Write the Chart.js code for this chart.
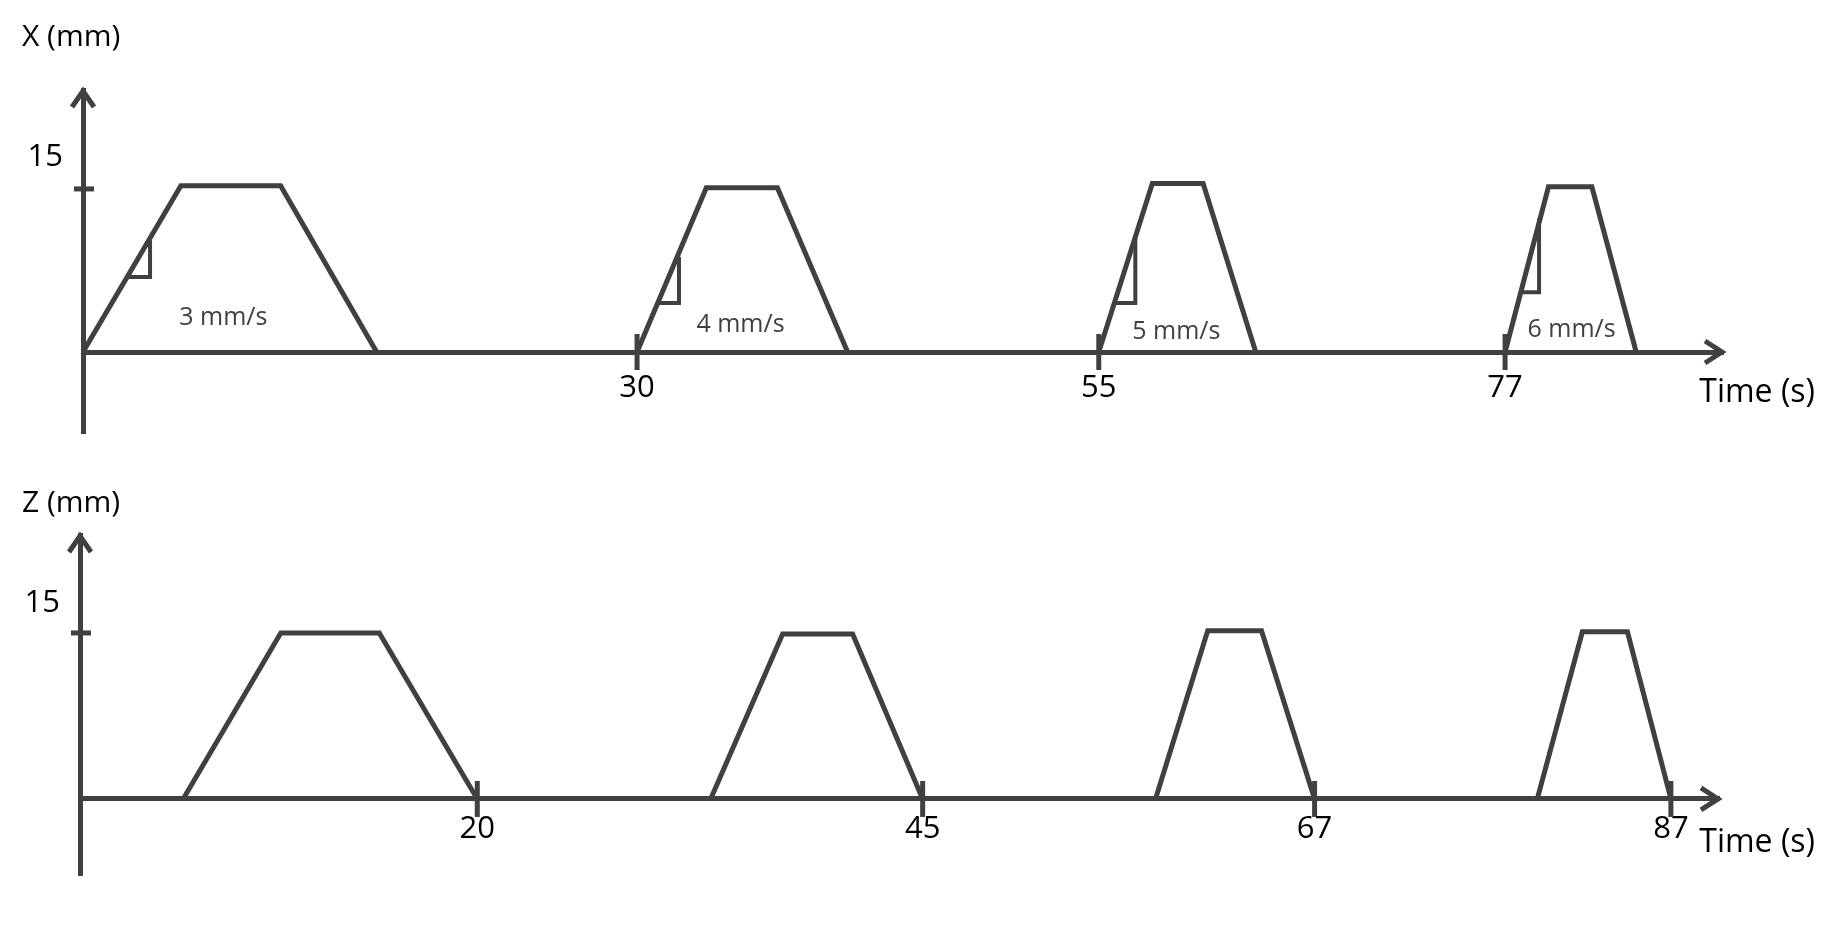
<!DOCTYPE html>
<html><head><meta charset="utf-8">
<script src="https://cdn.jsdelivr.net/npm/chart.js@4"></script>
<style>
html,body{margin:0;padding:0;background:#fff;}
#wrap{position:relative;width:1841px;height:927px;overflow:hidden;}
canvas{position:absolute;left:0;}
#cx{top:0;} #cz{top:463px;}
</style></head><body>
<div id="wrap"><canvas id="cx" width="1841" height="463"></canvas><canvas id="cz" width="1841" height="464"></canvas></div>
<script>
// ---- data (time in s, position in mm) ----
const xTimeTicks = [30, 55, 77];
const zTimeTicks = [20, 45, 67, 87];
const heightTick = [15];

const xRiseStart = [0, 30, 55, 77];
const xRiseEnd   = [5.3, 33.75, 57.9, 79.35];
const xFallStart = [10.7, 37.6, 60.65, 81.7];
const xFallEnd   = [15.9, 41.4, 63.5, 84.1];
const xPlateau   = [15.3, 15.1, 15.5, 15.2];

const slopeLegStart = [2.49, 31.14, 55.85, 77.92];
const slopeLegEnd   = [3.63, 32.27, 56.98, 78.84];
const slopeLow      = [6.9, 4.5, 4.5, 5.5];
const slopeHigh     = [10.3, 8.74, 10.5, 12.3];

const speedLabels    = ['3 mm/s', '4 mm/s', '5 mm/s', '6 mm/s'];
const speedLabelTime = [7.6, 35.6, 59.2, 80.6];
const speedLabelPos  = [3.1, 2.5, 1.85, 2.0];

const zRiseStart = [3.49, 33.1, 58.07, 79.5];
const zRiseEnd   = [8.97, 37.14, 61.0, 82.03];
const zFallStart = [14.5, 41.07, 64.02, 84.56];
const zFallEnd   = [20, 45, 67, 87];
const zPlateau   = [15.0, 14.9, 15.2, 15.1];

// ---- styling ----
const LINE = '#404040';
const LW = 5;
const FONT = '"Open Sans", "Noto Sans", sans-serif';

function pulses(rs, re, fs, fe, p) {
  return rs.map((_, i) => ({
    data: [{x: rs[i], y: 0}, {x: re[i], y: p[i]}, {x: fs[i], y: p[i]}, {x: fe[i], y: 0}],
    borderColor: LINE, borderWidth: LW, pointRadius: 0, fill: false, tension: 0, borderJoinStyle: 'miter'
  }));
}
function slopes() {
  return slopeLegStart.map((_, i) => ({
    data: [{x: slopeLegStart[i], y: slopeLow[i]}, {x: slopeLegEnd[i], y: slopeLow[i]}, {x: slopeLegEnd[i], y: slopeHigh[i]}],
    borderColor: LINE, borderWidth: 4, pointRadius: 0, fill: false, tension: 0, borderJoinStyle: 'miter'
  }));
}

const diagramPlugin = {
  id: 'diagram',
  afterDraw(chart, args, o) {
    const {ctx, chartArea: a, scales: {x, y}} = chart;
    const y0 = y.getPixelForValue(0);
    ctx.save();
    ctx.strokeStyle = LINE; ctx.lineWidth = LW; ctx.lineCap = 'butt'; ctx.lineJoin = 'miter';
    const seg = (x1, y1, x2, y2) => { ctx.beginPath(); ctx.moveTo(x1, y1); ctx.lineTo(x2, y2); ctx.stroke(); };
    o.xTicks.forEach(v => { const px = x.getPixelForValue(v); seg(px, y0 - 18, px, y0 + 18); });
    heightTick.forEach(v => { const py = y.getPixelForValue(v); seg(a.left - 9, py, a.left + 11, py); });
    ctx.beginPath(); ctx.moveTo(a.left - 11, a.top + 17); ctx.lineTo(a.left, a.top + 1); ctx.lineTo(a.left + 11, a.top + 17); ctx.stroke();
    ctx.beginPath(); ctx.moveTo(a.right - 18, y0 - 11); ctx.lineTo(a.right - 1, y0); ctx.lineTo(a.right - 18, y0 + 11); ctx.stroke();

    ctx.fillStyle = '#000'; ctx.textBaseline = 'middle';
    ctx.font = '30px ' + FONT; ctx.textAlign = 'left';
    ctx.fillText(o.title, o.titleX, o.titleY);
    ctx.font = '32px ' + FONT; ctx.textAlign = 'right';
    ctx.fillText(o.timeTitle, o.timeRight, y0 + o.timeDy);
    if (o.speeds) {
      ctx.fillStyle = LINE; ctx.font = '25px ' + FONT; ctx.textAlign = 'center';
      speedLabels.forEach((t, i) => ctx.fillText(t, x.getPixelForValue(speedLabelTime[i]), y.getPixelForValue(speedLabelPos[i])));
    }
    ctx.restore();
  }
};

function makeOptions(cfg) {
  const noPad = s => { s.paddingTop = 0; s.paddingBottom = 0; s.paddingLeft = 0; s.paddingRight = 0; };
  return {
    responsive: false, animation: false, devicePixelRatio: 1,
    layout: {padding: {top: cfg.padTop, bottom: cfg.padBottom, right: cfg.padRight, left: 0}},
    plugins: {legend: {display: false}, tooltip: {enabled: false}, title: {display: false}, diagram: cfg.diagram},
    scales: {
      x: {
        type: 'linear', position: {y: 0}, min: cfg.xMin, max: cfg.xMax,
        afterBuildTicks: s => { s.ticks = cfg.xTicks.map(v => ({value: v})); },
        afterFit: noPad,
        grid: {display: false, drawTicks: false},
        border: {display: true, color: LINE, width: LW},
        ticks: {color: '#000', font: {family: FONT, size: 31}, padding: cfg.xLabelPad, autoSkip: false, maxRotation: 0}
      },
      y: {
        type: 'linear', position: 'left', min: cfg.yMin, max: cfg.yMax,
        afterBuildTicks: s => { s.ticks = heightTick.map(v => ({value: v})); },
        afterFit: s => { noPad(s); s.width = cfg.yWidth; },
        grid: {display: false, drawTicks: false},
        border: {display: true, color: LINE, width: LW},
        ticks: {color: '#000', font: {family: FONT, size: 31}, padding: cfg.yLabelPad, labelOffset: cfg.yLabelOffset}
      }
    }
  };
}

new Chart(document.getElementById('cx'), {
  type: 'line',
  data: {datasets: pulses(xRiseStart, xRiseEnd, xFallStart, xFallEnd, xPlateau).concat(slopes())},
  options: makeOptions({
    padTop: 90, padBottom: 30, padRight: 118, yWidth: 83,
    xMin: 0, xMax: 88.8, yMin: -7.45, yMax: 24.1, xTicks: xTimeTicks,
    xLabelPad: 18, yLabelPad: 20, yLabelOffset: -32,
    diagram: {xTicks: xTimeTicks, title: 'X (mm)', titleX: 22, titleY: 37, timeTitle: 'Time (s)', timeRight: 1815, timeDy: 41, speeds: true}
  }),
  plugins: [diagramPlugin]
});

new Chart(document.getElementById('cz'), {
  type: 'line',
  data: {datasets: pulses(zRiseStart, zRiseEnd, zFallStart, zFallEnd, zPlateau)},
  options: makeOptions({
    padTop: 72, padBottom: 52, padRight: 122, yWidth: 80,
    xMin: -2.3, xMax: 89.7, yMin: -6.87, yMax: 23.85, xTicks: zTimeTicks,
    xLabelPad: 12, yLabelPad: 20, yLabelOffset: -30,
    diagram: {xTicks: zTimeTicks, title: 'Z (mm)', titleX: 22, titleY: 40, timeTitle: 'Time (s)', timeRight: 1815, timeDy: 44, speeds: false}
  }),
  plugins: [diagramPlugin]
});
</script>
</body></html>
